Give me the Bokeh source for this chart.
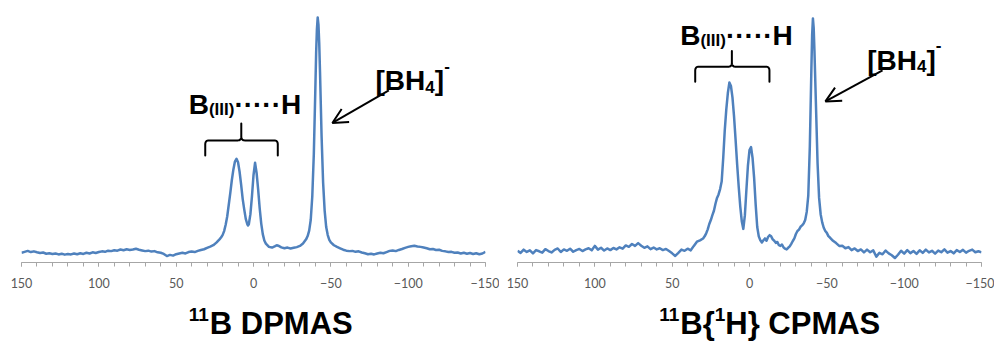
import numpy as np
from bokeh.plotting import figure
from bokeh.layouts import row, column
from bokeh.models import Range1d, FixedTicker, Label, Arrow, OpenHead
from bokeh.embed import file_html
from bokeh.resources import INLINE

# ---------------- data ----------------
dp_ppm = [150, 148, 146, 144, 142, 140, 138, 136, 134, 132, 130, 128, 126, 124, 122, 120, 118, 116, 114, 112,
          110, 108, 106, 104, 102, 100, 98, 96, 94, 92, 90, 88, 86, 84, 82, 80, 78, 76, 74, 72,
          70, 68, 66, 64, 62, 60, 58, 56, 54, 52, 50, 48, 46, 44, 42, 40, 38, 36, 34, 32,
          30, 28, 26, 24, 22, 21, 20, 19, 18, 17, 16, 15, 14, 13, 12, 11, 10, 9, 8, 7,
          6, 5, 4, 3.5, 3, 2, 1, 0, -1, -2, -3, -4, -5, -6, -7, -8, -10, -12, -14, -15,
          -16, -18, -20, -22, -24, -26, -28, -30, -32, -34, -35, -36, -37, -38, -39, -40, -40.5, -41, -41.5, -42,
          -42.5, -43, -44, -45, -46, -47, -48, -49, -50, -52, -54, -56, -58, -60, -62, -64, -66, -68, -70, -72,
          -74, -76, -78, -80, -82, -84, -86, -88, -90, -92, -94, -96, -98, -100, -102, -104, -106, -108, -110, -112,
          -114, -116, -118, -120, -122, -124, -126, -128, -130, -132, -134, -136, -138, -140, -142, -144, -146, -148, -150]
dp_int = [0.1, 0.5, 0.9, 0.4, 0.7, 0.3, 0.0, 0.2, -0.3, -0.1, -0.4, -0.2, -0.6, -0.3, -0.7, -0.4, -0.6, -0.2, -0.5, -0.1,
          -0.4, 0.1, -0.2, 0.3, 0.0, 0.4, 0.7, 0.5, 1.0, 0.8, 1.2, 1.0, 1.5, 1.2, 1.6, 1.3, 1.5, 1.8, 1.4, 1.1,
          0.8, 1.0, 0.6, 0.8, 0.3, 0.1, -0.4, -1.3, -0.8, -1.1, -0.5, -0.2, 0.1, -0.2, 0.4, 0.6, 0.4, 0.9, 1.3, 1.6,
          2.2, 2.7, 3.3, 4.4, 5.8, 6.6, 7.6, 9.3, 12.0, 15.5, 20.5, 25.5, 31.0, 35.5, 38.8, 40.0, 38.5, 34.5, 29.0, 23.0,
          18.5, 14.5, 12.2, 11.7, 12.3, 16.5, 24.0, 33.0, 38.3, 34.0, 27.0, 19.0, 12.5, 8.0, 5.3, 4.0, 2.6, 2.3, 2.9, 3.3,
          3.1, 2.4, 2.0, 2.3, 1.9, 2.2, 2.5, 3.0, 4.0, 5.8, 7.2, 9.5, 14.0, 24.0, 42.0, 70.0, 85.0, 95.0, 100.0, 97.0,
          89.0, 77.0, 50.0, 30.0, 18.0, 11.0, 7.6, 5.6, 4.5, 3.3, 2.6, 2.0, 1.4, 1.0, 0.8, 0.9, 0.5, 0.7, 0.2, -0.1,
          -0.5, -0.3, -0.6, -0.2, 0.1, -0.1, 0.4, 0.9, 1.1, 0.8, 1.3, 1.7, 2.2, 2.6, 2.9, 3.1, 2.8, 2.6, 2.3, 2.0,
          1.6, 1.7, 1.3, 1.4, 0.9, 0.7, 0.4, 0.5, 0.1, 0.2, -0.2, 0.1, -0.3, 0.0, -0.4, -0.1, -0.5, -0.2, 0.5]

cp_ppm = [150, 148, 146, 144, 142, 140, 138, 136, 134, 132, 130, 128, 126, 124, 122, 120, 118, 116, 114, 112,
          110, 108, 106, 104, 102, 100, 98, 96, 94, 92, 90, 88, 86, 84, 82, 80, 78, 76, 74, 72,
          70, 68, 66, 64, 62, 60, 58, 56, 54, 52, 50, 48, 46, 44, 42, 40, 38, 36, 34, 32,
          30, 29, 28, 27, 26, 25, 24, 23, 22, 21, 20, 19, 18, 17, 16, 15, 14, 13, 12, 11,
          10, 9, 8, 7, 6, 5, 4, 3, 2, 1, 0, -1, -2, -3, -4, -5, -6, -7, -8, -9,
          -10, -11, -12, -13, -14, -15, -16, -17, -18, -19, -20, -21, -22, -23, -24, -25, -26, -27, -28, -29,
          -30, -31, -32, -33, -34, -35, -36, -37, -38, -39, -40, -40.5, -41, -41.5, -42, -43, -44, -45, -46, -47,
          -48, -49, -50, -51, -52, -54, -56, -58, -60, -62, -64, -66, -68, -70, -72, -74, -76, -78, -80, -82,
          -84, -86, -88, -90, -92, -94, -96, -98, -100, -102, -104, -106, -108, -110, -112, -114, -116, -118, -120, -122,
          -124, -126, -128, -130, -132, -134, -136, -138, -140, -142, -144, -146, -148, -150]
cp_int = [0.3, -0.6, 0.8, -0.2, 0.5, -0.8, 0.6, 0.1, -0.5, 1.0, 0.2, -0.4, 0.7, 1.3, -0.2, 0.9, 0.3, 1.2, -0.1, 0.6,
          1.1, 0.2, 0.9, 1.4, 0.5, 2.4, 0.8, 1.6, 0.4, 1.3, 0.6, 1.5, 0.9, 1.8, 1.2, 2.6, 2.0, 3.2, 2.4, 3.6,
          2.5, 1.6, 2.2, 1.0, 1.7, 0.9, 1.4, 0.6, 1.1, 0.2, -0.8, -1.9, -0.6, 0.8, 0.3, 1.2, 0.5, 2.4, 4.2, 4.8,
          5.6, 6.5, 7.8, 9.5, 11.8, 13.5, 15.6, 17.5, 20.5, 23.0, 24.5, 26.8, 30.0, 40.0, 52.0, 61.0, 68.0, 72.5, 71.0, 66.0,
          58.0, 48.0, 37.5, 28.0, 19.5, 13.0, 9.7, 15.5, 26.5, 37.0, 43.5, 44.8, 40.0, 31.5, 20.0, 10.5, 6.5, 4.8, 3.9, 4.8,
          5.6, 4.6, 6.2, 7.0, 6.5, 5.2, 4.6, 3.7, 4.1, 2.7, 2.4, 3.0, 1.8, 1.2, 0.9, 1.6, 2.2, 3.3, 4.5, 5.6,
          7.5, 8.8, 9.4, 10.6, 11.2, 12.0, 13.5, 17.0, 24.0, 45.0, 78.0, 93.0, 100.0, 96.0, 86.0, 62.0, 38.0, 23.0, 16.0, 12.5,
          10.2, 8.8, 8.0, 6.6, 6.0, 4.6, 3.6, 2.4, 2.5, 1.4, 1.9, 0.6, 1.3, 0.2, 0.9, -0.4, 0.8, -0.3, 0.5, -2.2,
          -0.6, -1.2, 0.4, -0.8, -1.6, -2.8, -1.4, 0.3, -0.9, 0.6, -0.7, 0.2, -1.0, 0.5, -0.6, 0.8, -0.4, 0.3, -0.9, 0.4,
          -0.3, 0.9, -0.5, 0.2, -0.8, 0.6, -0.2, 0.7, -0.5, 0.3, 0.8, -0.3, 0.1, -0.4]

tick_vals = [150, 100, 50, 0, -50, -100, -150]
minor_vals = [150, 140, 130, 120, 110, 100, 90, 80, 70, 60, 50, 40, 30, 20, 10, 0,
              -10, -20, -30, -40, -50, -60, -70, -80, -90, -100, -110, -120, -130, -140, -150]

titles = ["DPMAS", "CPMAS"]

LINE_COLOR = "#4F81BD"
FONT = "Liberation Sans"
TOP_H = 293
TITLE_H = 48
TITLE_Y = 18


def make_panel(width, bl, br, y0, y1):
    p = figure(width=width, height=TOP_H, x_range=Range1d(150, -150), y_range=Range1d(y0, y1),
               output_backend="svg", toolbar_location=None, y_axis_location=None,
               min_border_left=bl, min_border_right=br, min_border_top=0,
               min_border_bottom=TOP_H - 262)
    p.outline_line_color = None
    p.xgrid.visible = False
    p.ygrid.visible = False
    p.background_fill_color = "white"
    p.border_fill_color = "white"
    ax = p.xaxis[0]
    ax.ticker = FixedTicker(ticks=tick_vals, minor_ticks=minor_vals)
    ax.axis_line_color = "#a6a6a6"
    ax.major_tick_line_color = "#a6a6a6"
    ax.minor_tick_line_color = "#a6a6a6"
    ax.major_tick_in = 0
    ax.major_tick_out = 4
    ax.minor_tick_in = 0
    ax.minor_tick_out = 4
    ax.major_label_text_font = "Lato"
    ax.major_label_text_font_size = "12.5px"
    ax.major_label_text_color = "#595959"
    ax.major_label_standoff = 11
    return p


def make_title_fig(width, bl, br):
    t = figure(width=width, height=TITLE_H, x_range=Range1d(150, -150), y_range=Range1d(0, TITLE_H),
               output_backend="svg", toolbar_location=None, x_axis_location=None, y_axis_location=None,
               min_border_left=bl, min_border_right=br, min_border_top=0, min_border_bottom=0)
    t.outline_line_color = None
    t.xgrid.visible = False
    t.ygrid.visible = False
    t.background_fill_color = "white"
    t.border_fill_color = "white"
    return t


def add_text(p, x, y, txt, size, dx=0, dy=0):
    p.add_layout(Label(x=x, y=y, text=txt, x_offset=dx, y_offset=dy, text_font=FONT,
                       text_font_style="bold", text_font_size=f"{size}px", text_color="black",
                       text_align="left", text_baseline="alphabetic"))


def add_brace(p, xl, xr, xt, yb, yh, ytip, rx, ry):
    s = -1.0 if xr < xl else 1.0
    t = np.linspace(0, 1, 10)

    def quad(p0, c, p1):
        qx = (1 - t) ** 2 * p0[0] + 2 * (1 - t) * t * c[0] + t ** 2 * p1[0]
        qy = (1 - t) ** 2 * p0[1] + 2 * (1 - t) * t * c[1] + t ** 2 * p1[1]
        return list(qx), list(qy)

    xs, ys = [xl], [yb]
    for seg in [quad((xl, yh - ry), (xl, yh), (xl + s * rx, yh)),
                quad((xt - s * rx, yh), (xt, yh), (xt, yh + ry))]:
        xs += seg[0]
        ys += seg[1]
    xs += [xt]
    ys += [ytip]
    for seg in [quad((xt, yh + ry), (xt, yh), (xt + s * rx, yh)),
                quad((xr - s * rx, yh), (xr, yh), (xr, yh - ry))]:
        xs += seg[0]
        ys += seg[1]
    xs += [xr]
    ys += [yb]
    p.line(xs, ys, line_color="black", line_width=2, line_join="round", line_cap="round")


def add_arrow(p, x0, y0, x1, y1):
    p.add_layout(Arrow(end=OpenHead(size=15, line_width=2, line_color="black"),
                       x_start=x0, y_start=y0, x_end=x1, y_end=y1,
                       line_width=2, line_color="black"))


# ---------------- left panel: 11B DPMAS ----------------
p1 = make_panel(499, 21, 14, -4.03, 107.2)
p1.line(dp_ppm, dp_int, line_color=LINE_COLOR, line_width=2.5, line_join="round")
add_brace(p1, 31.2, -15.7, 7.9, 41.4, 47.8, 55.0, 2.3, 1.7)
add_text(p1, 41.9, 63.1, "B", 28)
add_text(p1, 41.9, 63.1, "(III)", 17, dx=20.2, dy=-5)
add_text(p1, 41.9, 63.1, "\u00b7\u00b7\u00b7\u00b7\u00b7H", 28, dx=45.7)
add_text(p1, -78.9, 73.2, "[BH", 28)
add_text(p1, -78.9, 73.2, "4", 17, dx=49.8, dy=-6)
add_text(p1, -78.9, 73.2, "]", 28, dx=59.2)
add_text(p1, -78.9, 73.2, "-", 17, dx=68.6, dy=15)
add_arrow(p1, -87.5, 69.0, -51.0, 55.2)

t1 = make_title_fig(499, 21, 14)
add_text(t1, 41.9, TITLE_Y, "11", 19, dy=9)
add_text(t1, 41.9, TITLE_Y, "B " + titles[0], 31, dx=21.1)

# ---------------- right panel: 11B{1H} CPMAS ----------------
p2 = make_panel(495, 18, 13, -4.72, 107.7)
p2.line(cp_ppm, cp_int, line_color=LINE_COLOR, line_width=2.5, line_join="round")
add_brace(p2, 35.1, -12.9, 11.4, 72.8, 79.3, 86.0, 2.3, 1.7)
add_text(p2, 44.8, 92.7, "B", 28)
add_text(p2, 44.8, 92.7, "(III)", 17, dx=20.2, dy=-5)
add_text(p2, 44.8, 92.7, "\u00b7\u00b7\u00b7\u00b7\u00b7H", 28, dx=45.7)
add_text(p2, -76.1, 82.0, "[BH", 28)
add_text(p2, -76.1, 82.0, "4", 17, dx=49.8, dy=-6)
add_text(p2, -76.1, 82.0, "]", 28, dx=59.2)
add_text(p2, -76.1, 82.0, "-", 17, dx=68.6, dy=15)
add_arrow(p2, -86.0, 77.7, -49.1, 64.4)

t2 = make_title_fig(495, 18, 13)
add_text(t2, 58.4, TITLE_Y, "11", 19, dy=9)
add_text(t2, 58.4, TITLE_Y, "B{", 31, dx=21.1)
add_text(t2, 58.4, TITLE_Y, "1", 19, dx=55.5, dy=9)
add_text(t2, 58.4, TITLE_Y, "H} " + titles[1], 31, dx=66.1)

layout = column(row(p1, p2, spacing=0), row(t1, t2, spacing=0), spacing=0)
open("out.html", "w").write(file_html(layout, INLINE))
